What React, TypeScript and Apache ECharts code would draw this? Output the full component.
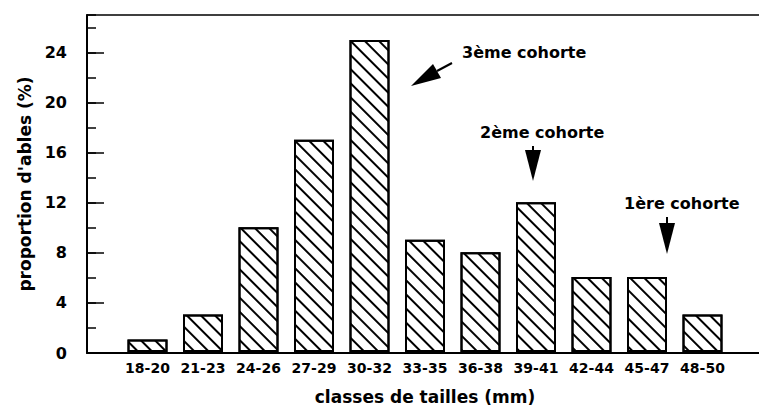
import React, { useEffect, useRef } from "react";
import * as echarts from "echarts";

const categories = ["18-20", "21-23", "24-26", "27-29", "30-32", "33-35", "36-38", "39-41", "42-44", "45-47", "48-50"];
const proportions = [1, 3, 10, 17, 25, 9, 8, 12, 6, 6, 3];
const yMajorStep = 4;
const yMinorStep = 2;
const yMax = 27;
const cohortLabels = ["3ème cohorte", "2ème cohorte", "1ère cohorte"];

const FONT = '"DejaVu Sans", sans-serif';

export default function App() {
  const ref = useRef<HTMLDivElement>(null);
  useEffect(() => {
    document.body.style.margin = "0";
    const chart = echarts.init(ref.current!, null, { renderer: "svg" });
    const txt = (text: string, x: number, y: number) => ({
      type: "text",
      x,
      y,
      style: { text, fill: "#000", font: `bold 16px ${FONT}`, textAlign: "left", textVerticalAlign: "middle" },
    });
    chart.setOption({
      animation: false,
      backgroundColor: "#fff",
      grid: [
        { left: 87, right: 0, top: 15, bottom: 57 },
        { left: 119.75, right: 28.75, top: 15, bottom: 57 },
      ],
      xAxis: [
        {
          gridIndex: 0, type: "value", min: 0, max: 1, position: "bottom",
          axisLine: { show: true, onZero: false, lineStyle: { color: "#000", width: 2 } },
          axisTick: { show: false }, axisLabel: { show: false }, splitLine: { show: false },
        },
        {
          gridIndex: 0, type: "value", min: 0, max: 1, position: "top",
          axisLine: { show: true, onZero: false, lineStyle: { color: "#000", width: 1.5 } },
          axisTick: { show: false }, axisLabel: { show: false }, splitLine: { show: false },
        },
        {
          gridIndex: 1, type: "category", data: categories, position: "bottom",
          axisLine: { show: false }, axisTick: { show: false },
          axisLabel: { color: "#000", fontFamily: FONT, fontWeight: "bold", fontSize: 14, margin: 9, interval: 0 },
          name: "classes de tailles (mm)", nameLocation: "middle", nameGap: 36,
          nameTextStyle: { color: "#000", fontFamily: FONT, fontWeight: "bold", fontSize: 17 },
        },
      ],
      yAxis: [
        {
          gridIndex: 0, type: "value", min: 0, max: yMax, interval: yMajorStep, position: "left",
          axisLine: { show: true, onZero: false, lineStyle: { color: "#000", width: 2 } },
          axisTick: { show: true, inside: true, length: 17, lineStyle: { color: "#000", width: 1.5 } },
          axisLabel: {
            color: "#000", fontFamily: FONT, fontWeight: "bold", fontSize: 16, margin: 20,
            showMaxLabel: false,
            formatter: (v: number) => (v % yMajorStep === 0 ? String(v) : ""),
          },
          splitLine: { show: false },
          name: "proportion d'ables (%)", nameLocation: "middle", nameGap: 53,
          nameTextStyle: { color: "#000", fontFamily: FONT, fontWeight: "bold", fontSize: 17 },
        },
        {
          gridIndex: 0, type: "value", min: 0, max: yMax, interval: yMinorStep, position: "left",
          axisLine: { show: false, onZero: false },
          axisTick: { show: true, inside: true, length: 9, lineStyle: { color: "#000", width: 1.5 } },
          axisLabel: { show: false }, splitLine: { show: false },
        },
        {
          gridIndex: 1, type: "value", min: 0, max: yMax, show: false,
        },
      ],
      series: [
        {
          type: "bar",
          xAxisIndex: 2,
          yAxisIndex: 2,
          data: proportions,
          barWidth: 40,
          itemStyle: {
            color: "#fff",
            borderColor: "#000",
            borderWidth: 2,
            decal: {
              symbol: "rect",
              symbolSize: 1,
              color: "#000",
              dashArrayX: [1, 0],
              dashArrayY: [2, 7.5],
              rotation: Math.PI / 4,
            },
          },
        },
      ],
      graphic: [
        txt(cohortLabels[0], 462, 52),
        txt(cohortLabels[1], 480, 132),
        txt(cohortLabels[2], 624, 203),
        { type: "line", shape: { x1: 452, y1: 63, x2: 437, y2: 71 }, style: { stroke: "#000", lineWidth: 2 } },
        { type: "polygon", shape: { points: [[411, 86], [441, 78], [433, 64]] }, style: { fill: "#000" } },
        { type: "line", shape: { x1: 533, y1: 146, x2: 533, y2: 152 }, style: { stroke: "#000", lineWidth: 2 } },
        { type: "polygon", shape: { points: [[525, 150], [541, 150], [533, 181]] }, style: { fill: "#000" } },
        { type: "line", shape: { x1: 667, y1: 217, x2: 667, y2: 225 }, style: { stroke: "#000", lineWidth: 2 } },
        { type: "polygon", shape: { points: [[659, 223], [675, 223], [667, 254]] }, style: { fill: "#000" } },
      ],
    });
    return () => chart.dispose();
  }, []);
  return <div ref={ref} style={{ width: 759, height: 410 }} />;
}
